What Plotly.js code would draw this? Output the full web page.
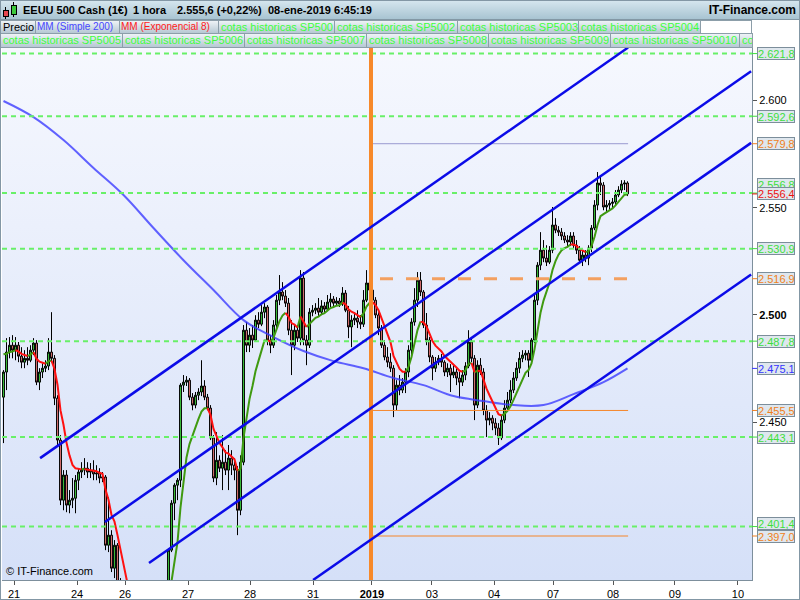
<!DOCTYPE html>
<html>
<head>
<meta charset="utf-8">
<script src="https://cdn.plot.ly/plotly-3.0.1.min.js"></script>
<style>
  body { margin: 0; background: #fff; }
  #wrap { position: relative; width: 800px; height: 600px; overflow: hidden; background: #fff;
          font-family: "Liberation Sans", Arial, sans-serif; }
  #plotbg { position: absolute; left: 2px; top: 48px; width: 750px; height: 532px;
            background: linear-gradient(#f6f8fe, #d5e0f8); }
  #chart { position: absolute; left: 0; top: 0; width: 800px; height: 600px; }
  #topbar { position: absolute; left: 0; top: 0; width: 800px; height: 20px; box-sizing: border-box;
            background: linear-gradient(#d7e7ef, #a8c4d2); border-bottom: 1px solid #8398a5; }
  .hd { position: absolute; top: 3px; font-size: 11px; font-weight: bold; color: #000;
        white-space: nowrap; line-height: 14px; }
  .tab { position: absolute; height: 14px; box-sizing: border-box; border: 1px solid #8c9ea9;
         background: linear-gradient(#eef3f6, #b6c8d3); font-size: 11px; line-height: 12px;
         padding-left: 2px; white-space: nowrap; overflow: hidden; color: #3dff3d; }
  .tab.mm { font-size: 10px; padding-left: 1px; }
  .blank { position: absolute; height: 14px; box-sizing: border-box; border: 1px solid #8c9ea9; background: #fff; }
  .ic { position: absolute; box-sizing: border-box; border: 1px solid #000; }
  .wk { position: absolute; width: 1px; background: #000; }
  #frame { position: absolute; left: 0; top: 0; width: 800px; height: 600px; box-sizing: border-box;
           border: 1px solid #8397a5; pointer-events: none; }
</style>
</head>
<body>
<div id="wrap">
  <div id="plotbg"></div>
  <div id="chart"></div>

  <div id="topbar">
    <div class="wk" style="left:5px;top:7px;height:12px"></div>
    <div class="ic" style="left:3px;top:10px;width:6px;height:7px;background:#e6474f"></div>
    <div class="wk" style="left:13px;top:2px;height:15px"></div>
    <div class="ic" style="left:11px;top:5px;width:6px;height:10px;background:#3cc83c"></div>
    <span class="hd" style="left:23px">EEUU 500 Cash (1€)</span>
    <span class="hd" style="left:133px">1 hora</span>
    <span class="hd" style="left:177px">2.555,6 (+0,22%)</span>
    <span class="hd" style="left:268px">08-ene-2019 6:45:19</span>
    <span class="hd" style="right:4px;font-size:12px">IT-Finance.com</span>
  </div>

  <div class="tab" style="left:0;top:20px;width:36px;color:#000">Precio</div>
  <div class="tab mm" style="left:35px;top:20px;width:85px;color:#4646ff">MM (Simple 200)</div>
  <div class="tab mm" style="left:119px;top:20px;width:100px;color:#ff1a1a">MM (Exponencial 8)</div>
  <div class="tab" style="left:218px;top:20px;width:117px">cotas historicas SP500</div>
  <div class="tab" style="left:334px;top:20px;width:124px">cotas historicas SP5002</div>
  <div class="tab" style="left:457px;top:20px;width:122px">cotas historicas SP5003</div>
  <div class="tab" style="left:578px;top:20px;width:123px">cotas historicas SP5004</div>
  <div class="blank" style="left:700px;top:20px;width:52px"></div>

  <div class="tab" style="left:0;top:33px;width:123px;height:15px">cotas historicas SP5005</div>
  <div class="tab" style="left:122px;top:33px;width:123px;height:15px">cotas historicas SP5006</div>
  <div class="tab" style="left:244px;top:33px;width:123px;height:15px">cotas historicas SP5007</div>
  <div class="tab" style="left:366px;top:33px;width:123px;height:15px">cotas historicas SP5008</div>
  <div class="tab" style="left:488px;top:33px;width:123px;height:15px">cotas historicas SP5009</div>
  <div class="tab" style="left:610px;top:33px;width:130px;height:15px">cotas historicas SP50010</div>
  <div class="tab" style="left:739px;top:33px;width:14px;height:15px">co</div>

  <div id="frame"></div>
</div>

<script>
// Hourly candles, EEUU 500 Cash, 21-dic-2018 .. 08-ene-2019
const open = [
  2461.7, 2473.4, 2482.7, 2485.9, 2483.6, 2485.9, 2480.8, 2478.0, 2479.8, 2478.9,
  2483.6, 2486.9, 2468.7, 2473.4, 2475.2, 2476.2, 2482.7, 2479.8, 2461.2, 2441.7,
  2413.7, 2425.4, 2411.4, 2413.7, 2414.6, 2423.0, 2426.8, 2427.7, 2428.6, 2426.8,
  2427.7, 2425.9, 2426.3, 2424.0, 2424.5, 2392.7, 2397.4, 2382.0, 2392.7, 2375.5,
  2364.8, 2358.0, 2352.0, 2350.0, 2354.0, 2356.0, 2359.0, 2362.0, 2360.0, 2357.0,
  2352.0, 2348.0, 2350.0, 2355.0, 2360.0, 2366.0, 2390.4, 2412.3, 2420.7, 2423.0,
  2467.3, 2468.7, 2469.6, 2461.7, 2458.0, 2462.6, 2464.1, 2466.9, 2461.7, 2456.6,
  2442.7, 2424.0, 2432.3, 2428.6, 2431.4, 2427.7, 2433.3, 2430.0, 2427.7, 2409.0,
  2431.4, 2492.9, 2485.9, 2490.6, 2488.3, 2497.6, 2495.7, 2501.3, 2503.7, 2488.3,
  2485.9, 2495.3, 2506.9, 2510.7, 2508.8, 2505.5, 2492.9, 2485.9, 2492.9, 2489.2,
  2517.2, 2488.3, 2485.9, 2501.3, 2502.2, 2503.2, 2501.3, 2504.2, 2502.7, 2506.0,
  2507.4, 2505.5, 2506.5, 2505.1, 2510.2, 2502.2, 2494.4, 2497.6, 2498.5, 2496.7,
  2495.7, 2506.9, 2514.9, 2511.6, 2506.9, 2500.0, 2493.9, 2485.9, 2480.4, 2478.0,
  2475.2, 2458.0, 2467.3, 2465.0, 2468.7, 2473.4, 2483.6, 2496.7, 2506.9, 2516.2,
  2510.7, 2495.3, 2488.3, 2480.4, 2475.2, 2478.0, 2479.8, 2478.0, 2473.4, 2475.2,
  2472.0, 2473.4, 2470.6, 2468.7, 2472.0, 2476.2, 2487.4, 2479.8, 2458.0, 2476.6,
  2473.4, 2455.6, 2451.0, 2451.9, 2449.6, 2447.3, 2442.7, 2451.0, 2456.6, 2460.3,
  2465.0, 2470.6, 2475.2, 2479.8, 2481.3, 2482.2, 2478.9, 2488.3, 2506.9, 2523.2,
  2530.2, 2526.5, 2524.6, 2530.2, 2541.9, 2539.5, 2538.6, 2536.8, 2534.9, 2534.0,
  2536.8, 2532.5, 2530.2, 2525.5, 2527.9, 2526.5, 2531.2, 2540.5, 2551.2, 2561.5,
  2560.5, 2550.3, 2551.2, 2552.0, 2552.6, 2555.9, 2558.2, 2561.0, 2561.5
];
const high = [
  2474.3, 2489.2, 2489.7, 2490.6, 2489.7, 2487.4, 2485.0, 2483.6, 2485.0, 2485.9,
  2489.2, 2488.3, 2475.2, 2477.5, 2478.9, 2489.2, 2501.3, 2481.3, 2462.6, 2444.0,
  2427.7, 2427.7, 2418.4, 2424.0, 2425.4, 2428.6, 2431.4, 2433.3, 2431.4, 2431.0,
  2432.3, 2430.0, 2428.6, 2426.8, 2425.4, 2415.1, 2399.7, 2395.1, 2393.7, 2377.4,
  2366.5, 2359.5, 2354.0, 2355.5, 2358.0, 2360.5, 2364.0, 2363.5, 2361.5, 2358.5,
  2353.5, 2351.5, 2356.5, 2361.5, 2367.5, 2391.3, 2413.7, 2421.6, 2424.0, 2468.2,
  2472.0, 2471.5, 2470.6, 2463.6, 2464.1, 2465.9, 2478.9, 2469.6, 2463.2, 2458.0,
  2444.0, 2445.4, 2434.6, 2444.0, 2437.0, 2439.4, 2437.0, 2433.3, 2429.6, 2434.6,
  2495.3, 2496.7, 2493.9, 2495.3, 2499.9, 2501.3, 2504.6, 2505.5, 2504.6, 2490.6,
  2497.6, 2509.3, 2518.6, 2515.3, 2511.6, 2507.9, 2497.6, 2495.3, 2495.3, 2520.9,
  2520.0, 2490.6, 2503.2, 2504.6, 2505.5, 2507.9, 2506.9, 2506.0, 2509.3, 2510.2,
  2508.8, 2508.3, 2507.9, 2513.0, 2511.6, 2504.2, 2499.9, 2501.3, 2502.2, 2499.9,
  2511.6, 2520.9, 2520.9, 2520.0, 2508.3, 2501.3, 2495.3, 2488.3, 2485.0, 2482.2,
  2476.6, 2469.6, 2472.0, 2470.6, 2475.2, 2485.9, 2498.5, 2512.5, 2520.0, 2520.0,
  2511.6, 2500.9, 2489.7, 2481.3, 2480.4, 2481.3, 2481.8, 2478.9, 2477.5, 2477.1,
  2476.6, 2475.2, 2473.4, 2474.3, 2478.0, 2492.9, 2489.2, 2481.3, 2478.9, 2479.9,
  2475.2, 2458.0, 2454.7, 2453.3, 2451.9, 2449.6, 2453.3, 2460.3, 2464.1, 2469.6,
  2473.4, 2478.0, 2482.7, 2483.6, 2483.6, 2483.6, 2489.2, 2509.3, 2524.6, 2538.6,
  2534.9, 2532.5, 2532.1, 2550.3, 2545.1, 2541.4, 2540.5, 2538.6, 2537.2, 2538.6,
  2538.6, 2534.9, 2532.1, 2530.2, 2530.2, 2532.5, 2541.9, 2553.5, 2566.6, 2565.2,
  2561.9, 2553.5, 2553.5, 2554.5, 2558.2, 2560.0, 2562.8, 2562.8, 2562.3
];
const low = [
  2440.3, 2465.0, 2479.8, 2479.8, 2478.9, 2478.0, 2475.2, 2475.2, 2476.6, 2478.0,
  2481.3, 2467.3, 2465.0, 2470.6, 2473.4, 2474.3, 2478.0, 2458.0, 2439.4, 2411.4,
  2409.0, 2408.1, 2407.6, 2410.0, 2407.6, 2418.4, 2424.0, 2425.4, 2424.0, 2424.0,
  2423.0, 2423.0, 2421.6, 2422.1, 2390.4, 2389.5, 2380.2, 2377.4, 2371.8, 2361.5,
  2356.0, 2350.5, 2347.8, 2349.0, 2352.5, 2354.5, 2357.5, 2358.0, 2355.0, 2350.0,
  2346.6, 2346.8, 2348.5, 2353.5, 2358.5, 2364.0, 2389.5, 2404.4, 2413.7, 2419.8,
  2464.1, 2466.9, 2460.3, 2455.6, 2456.5, 2460.3, 2462.2, 2460.3, 2455.6, 2441.7,
  2422.1, 2420.7, 2426.8, 2418.4, 2425.4, 2418.4, 2425.4, 2423.0, 2397.4, 2406.7,
  2430.0, 2482.7, 2482.7, 2484.6, 2487.4, 2493.9, 2494.8, 2498.5, 2485.9, 2482.2,
  2484.6, 2493.9, 2504.6, 2506.9, 2503.7, 2490.6, 2472.0, 2483.6, 2487.4, 2485.9,
  2485.9, 2476.6, 2484.6, 2499.4, 2500.4, 2499.4, 2499.9, 2500.8, 2501.8, 2503.7,
  2503.7, 2504.6, 2503.7, 2504.2, 2501.3, 2489.2, 2485.0, 2495.3, 2493.9, 2493.4,
  2494.4, 2506.0, 2509.3, 2506.0, 2498.5, 2490.6, 2484.6, 2478.9, 2475.7, 2473.4,
  2452.4, 2455.6, 2462.6, 2463.6, 2463.6, 2471.0, 2480.9, 2495.0, 2503.7, 2508.8,
  2493.9, 2485.9, 2478.0, 2469.6, 2473.4, 2476.6, 2475.7, 2471.5, 2471.1, 2464.1,
  2470.6, 2467.3, 2461.2, 2466.9, 2469.6, 2475.2, 2478.0, 2451.0, 2456.6, 2472.0,
  2453.3, 2443.1, 2448.6, 2446.3, 2444.0, 2439.4, 2441.7, 2449.6, 2455.6, 2458.9,
  2463.6, 2469.3, 2472.9, 2478.0, 2478.9, 2471.1, 2478.0, 2486.9, 2504.6, 2520.9,
  2524.6, 2522.8, 2523.7, 2528.8, 2538.1, 2536.8, 2534.9, 2533.5, 2532.1, 2532.1,
  2531.2, 2528.4, 2524.2, 2522.8, 2524.6, 2523.2, 2529.3, 2539.5, 2548.8, 2555.9,
  2548.8, 2547.5, 2548.8, 2549.8, 2551.2, 2554.9, 2556.8, 2558.2, 2555.4
];
const close = [
  2473.4, 2482.7, 2485.9, 2483.6, 2485.9, 2480.8, 2478.0, 2479.8, 2478.9, 2483.6,
  2486.9, 2468.7, 2473.4, 2475.2, 2476.2, 2482.7, 2479.8, 2461.2, 2441.7, 2413.7,
  2425.4, 2411.4, 2413.7, 2414.6, 2423.0, 2426.8, 2427.7, 2428.6, 2426.8, 2427.7,
  2425.9, 2426.3, 2424.0, 2424.5, 2392.7, 2397.4, 2382.0, 2392.7, 2375.5, 2364.8,
  2358.0, 2352.0, 2350.0, 2354.0, 2356.0, 2359.0, 2362.0, 2360.0, 2357.0, 2352.0,
  2348.0, 2350.0, 2355.0, 2360.0, 2366.0, 2390.4, 2412.3, 2420.7, 2423.0, 2467.3,
  2468.7, 2469.6, 2461.7, 2458.0, 2462.6, 2464.1, 2466.9, 2461.7, 2456.6, 2442.7,
  2424.0, 2432.3, 2428.6, 2431.4, 2427.7, 2433.3, 2430.0, 2427.7, 2409.0, 2431.4,
  2492.9, 2485.9, 2490.6, 2488.3, 2497.6, 2495.7, 2501.3, 2503.7, 2488.3, 2485.9,
  2495.3, 2506.9, 2510.7, 2508.8, 2505.5, 2492.9, 2485.9, 2492.9, 2489.2, 2517.2,
  2488.3, 2485.9, 2501.3, 2502.2, 2503.2, 2501.3, 2504.2, 2502.7, 2506.0, 2507.4,
  2505.5, 2506.5, 2505.1, 2510.2, 2502.2, 2494.4, 2497.6, 2498.5, 2496.7, 2495.7,
  2506.9, 2514.9, 2511.6, 2506.9, 2500.0, 2493.9, 2485.9, 2480.4, 2478.0, 2475.2,
  2458.0, 2467.3, 2465.0, 2468.7, 2473.4, 2483.6, 2496.7, 2506.9, 2516.2, 2510.7,
  2495.3, 2488.3, 2480.4, 2475.2, 2478.0, 2479.8, 2478.0, 2473.4, 2475.2, 2472.0,
  2473.4, 2470.6, 2468.7, 2472.0, 2476.2, 2487.4, 2479.8, 2458.0, 2476.6, 2473.4,
  2455.6, 2451.0, 2451.9, 2449.6, 2447.3, 2442.7, 2451.0, 2456.6, 2460.3, 2465.0,
  2470.6, 2475.2, 2479.8, 2481.3, 2482.2, 2478.9, 2488.3, 2506.9, 2523.2, 2530.2,
  2526.5, 2524.6, 2530.2, 2541.9, 2539.5, 2538.6, 2536.8, 2534.9, 2534.0, 2536.8,
  2532.5, 2530.2, 2525.5, 2527.9, 2526.5, 2531.2, 2540.5, 2551.2, 2561.5, 2560.5,
  2550.3, 2551.2, 2552.0, 2552.6, 2555.9, 2558.2, 2561.0, 2561.5, 2556.4
];

// Session labels on the time axis (candle index where each day starts)
const dayTickIdx = [3.5, 24.5, 40.5, 61.5, 82.2, 103.2, 122.8, 142.8, 163.5, 183.2, 203.2, 223.8, 244.8];
const dayTickText = ['21', '24', '26', '27', '28', '31', '<b>2019</b>', '03', '04', '07', '08', '09', '10'];

// MM (Simple 200), read every 10 candles
const smaIdx = [0, 10, 20, 30, 40, 50, 60, 70, 80, 90, 100, 110, 120, 130, 140, 150, 160, 170, 180, 190, 200, 208];
const smaVal = [2599.7, 2592.2, 2581.5, 2568.5, 2555.9, 2540.5, 2525.5, 2511.6, 2497.6, 2489.7, 2483.2,
                2478.5, 2475.2, 2470.6, 2467.3, 2462.2, 2459.9, 2458.0, 2458.0, 2463.1, 2468.7, 2475.1];

// MM (Exponencial 8)
const emaPeriod = 8;
const emaSeed = 2484.0;

// Trend channel (start / end of each line: [candle index, price])
const channelStart = [[12.2, 2433.3], [33.8, 2403.5], [48.5, 2384.4], [103.2, 2376.5]];
const channelEnd   = [[208.2, 2624.6], [249.2, 2613.6], [249.2, 2580.2], [249.2, 2518.9]];

// cotas historicas (horizontal green levels)
const greenLevels = [2621.8, 2592.6, 2556.8, 2530.9, 2487.8, 2443.1, 2401.4];

// Levels drawn from the first 2019 session
const yearOpenIdx = 122.5;
const levelEndIdx = 208.2;
const orangeLevels = [2579.8, 2516.9, 2455.5, 2397.0];
const orangeLevelFrom = [122.5, 125.5, 122.5, 122.5];

// Price tags on the right scale
const tagValues = [2621.8, 2592.6, 2579.8, 2556.8, 2530.9, 2516.9, 2487.8, 2475.1, 2455.5, 2443.1, 2401.4, 2397.0, 2556.4];
const tagColors = ['#3ddf3d', '#3ddf3d', '#f08020', '#3ddf3d', '#3ddf3d', '#f08020', '#3ddf3d', '#3434ff',
                   '#f08020', '#3ddf3d', '#3ddf3d', '#f08020', '#ee1111'];
const tagShift  = [0, 0, 0, 9, 0, 0, 0, 0, 0, 0, 3, 0, 0];

// Right scale ticks
const priceTicks = [2450, 2500, 2550, 2600];

function fmt(v, dec) {
  const s = v.toFixed(dec);
  const [ip, fp] = s.split('.');
  const withDots = ip.replace(/\B(?=(\d{3})+(?!\d))/g, '.');
  return fp ? withDots + ',' + fp : withDots;
}

const idx = close.map((_, i) => i);

// EMA of closes, coloured green while rising and red while falling
const alpha = 2 / (emaPeriod + 1);
let prev = emaSeed;
const ema = close.map(c => (prev = prev + alpha * (c - prev)));
const emaUp = { x: [], y: [] }, emaDn = { x: [], y: [] };
let cur = null;
for (let i = 1; i < ema.length; i++) {
  const t = ema[i] >= ema[i - 1] ? emaUp : emaDn;
  if (t !== cur) {
    if (t.x.length) { t.x.push(null); t.y.push(null); }
    t.x.push(i - 1); t.y.push(ema[i - 1]);
    cur = t;
  }
  t.x.push(i); t.y.push(ema[i]);
}

const traces = [
  {
    type: 'candlestick', x: idx, open: open, high: high, low: low, close: close,
    increasing: { line: { color: '#000', width: 1 }, fillcolor: '#3fd03f' },
    decreasing: { line: { color: '#000', width: 1 }, fillcolor: '#e97a7a' },
    whiskerwidth: 0, hoverinfo: 'skip', showlegend: false
  },
  {
    type: 'scatter', mode: 'lines', x: smaIdx, y: smaVal,
    line: { color: 'rgba(60,60,255,0.8)', width: 2, shape: 'spline' },
    hoverinfo: 'skip', showlegend: false
  },
  {
    type: 'scatter', mode: 'lines', x: emaUp.x, y: emaUp.y, connectgaps: false,
    line: { color: '#3f9a10', width: 2 }, hoverinfo: 'skip', showlegend: false
  },
  {
    type: 'scatter', mode: 'lines', x: emaDn.x, y: emaDn.y, connectgaps: false,
    line: { color: '#ff1010', width: 2 }, hoverinfo: 'skip', showlegend: false
  }
];

const shapes = [];
greenLevels.forEach(p => shapes.push({
  type: 'line', xref: 'paper', x0: 0, x1: 1, yref: 'y', y0: p, y1: p, layer: 'above',
  line: { color: '#68f068', width: 2, dash: '5px,4px' }
}));
orangeLevels.forEach((p, k) => {
  const dashed = k === 1;
  shapes.push({
    type: 'line', xref: 'x', x0: orangeLevelFrom[k], x1: levelEndIdx, yref: 'y', y0: p, y1: p, layer: 'above',
    line: dashed ? { color: '#f3a060', width: 3, dash: '13px,13px' }
                 : { color: k === 0 ? '#9a9ad0' : '#f5862a', width: 1 }
  });
});
shapes.push({
  type: 'line', xref: 'x', x0: yearOpenIdx, x1: yearOpenIdx, yref: 'paper', y0: 0, y1: 1, layer: 'above',
  line: { color: '#f7892a', width: 4 }
});
channelStart.forEach((s, k) => shapes.push({
  type: 'line', xref: 'x', yref: 'y', x0: s[0], y0: s[1], x1: channelEnd[k][0], y1: channelEnd[k][1],
  layer: 'above', line: { color: '#0b0be8', width: 2.5 }
}));
tagValues.forEach((v, k) => shapes.push({
  type: 'line', xref: 'paper', x0: 1, x1: 1.0067, yref: 'y', y0: v, y1: v,
  line: { color: tagColors[k], width: 1 }
}));

const annotations = tagValues.map((v, k) => ({
  xref: 'paper', x: 1, xanchor: 'left', xshift: 5,
  yref: 'y', y: v, yanchor: 'middle', yshift: tagShift[k],
  text: fmt(v, 1), showarrow: false,
  font: { family: 'Liberation Sans, Arial, sans-serif', size: 11, color: tagColors[k] },
  bgcolor: '#dfe7ee', bordercolor: '#7c8e9b', borderwidth: 1, borderpad: 0,
  width: 36, height: 11, align: 'left'
}));
annotations.push({
  xref: 'paper', x: 0, xanchor: 'left', xshift: 2,
  yref: 'paper', y: 0, yanchor: 'bottom', yshift: 1,
  text: '© IT-Finance.com', showarrow: false,
  font: { family: 'Liberation Sans, Arial, sans-serif', size: 11, color: '#000' }
});

const layout = {
  width: 800, height: 600,
  margin: { l: 2, r: 48, t: 48, b: 20, pad: 0 },
  paper_bgcolor: 'rgba(0,0,0,0)', plot_bgcolor: 'rgba(0,0,0,0)',
  showlegend: false, dragmode: false, boxgap: 0.1,
  font: { family: 'Liberation Sans, Arial, sans-serif', size: 11, color: '#000' },
  xaxis: {
    range: [-0.5, 249.5], fixedrange: true, rangeslider: { visible: false },
    tickmode: 'array', tickvals: dayTickIdx, ticktext: dayTickText,
    ticks: 'outside', ticklen: 4, tickcolor: '#555', tickfont: { size: 11, color: '#000' },
    showline: true, linecolor: '#7d8f9c', linewidth: 1, mirror: false,
    showgrid: false, zeroline: false
  },
  yaxis: {
    side: 'right', range: [2376.5, 2624.4], fixedrange: true,
    tickmode: 'array', tickvals: priceTicks,
    ticktext: priceTicks.map(v => v === 2500 ? '<b>' + fmt(v, 0) + '</b>' : fmt(v, 0)),
    ticks: 'outside', ticklen: 4, tickcolor: '#555', tickfont: { size: 11, color: '#000' },
    showline: true, linecolor: '#7d8f9c', linewidth: 1,
    showgrid: false, zeroline: false
  },
  shapes: shapes,
  annotations: annotations
};

Plotly.newPlot('chart', traces, layout, { staticPlot: true, displayModeBar: false });
</script>
</body>
</html>
